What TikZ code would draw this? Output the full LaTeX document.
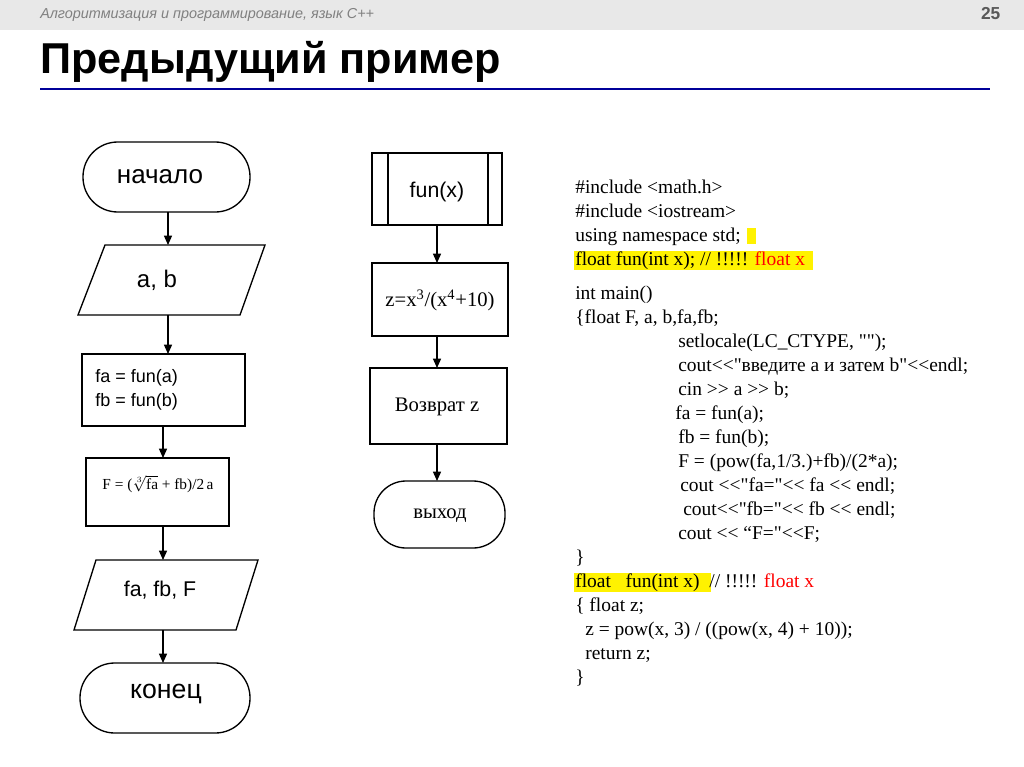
\documentclass[tikz,border=0pt]{standalone}
\usepackage{fontspec}
\setmainfont{Liberation Sans}
\newfontfamily\code{Liberation Serif}[Ligatures=TeXOff]
\usetikzlibrary{arrows.meta}
\begin{document}
\begin{tikzpicture}[x=0.75pt,y=-0.75pt,
 blk/.style={draw,line width=1pt,inner sep=0pt},
 arr/.style={line width=1pt,-{Triangle[length=7pt,width=6pt]}},
 cl/.style={anchor=base west,inner sep=0pt,font=\code\fontsize{14.6}{16}\selectfont},
 fl/.style={font=\fontsize{16}{19}\selectfont},
 ms/.style={font=\code\fontsize{15.5}{18}\selectfont}]
\useasboundingbox (0,0) rectangle (1024,767);
\fill[gray!18] (0,0) rectangle (1024,30);
\node[anchor=west,inner sep=0pt,text=gray,font=\itshape\fontsize{10.8}{13}\selectfont] (hdr) at (40,15) {Алгоритмизация и программирование, язык С++};
\node[anchor=east,text=gray!70!black,font=\bfseries\fontsize{13}{15}\selectfont] (pg) at (1005,14) {25};
\node[anchor=west,inner sep=0pt,font=\bfseries\fontsize{32.4}{36}\selectfont] (title) at (40,62) {Предыдущий пример};
\draw[line width=2.2pt,blue!60!black] (40,89) -- (990,89);
% left flowchart
\draw[blk,rounded corners=26pt] (83,142) rectangle (250,212);
\node[font=\fontsize{19.5}{22}\selectfont] (start) at (160,177) {начало};
\coordinate (s0) at (168,212);
\draw[blk] (105,245) -- (265,245) -- (240,315) -- (78,315) -- cycle;
\node[font=\fontsize{18}{21}\selectfont] (in) at (157,280) {a, b};
\coordinate (in1) at (168,245);
\coordinate (in2) at (168,315);
\draw[blk] (82,354) rectangle (245,426);
\node[anchor=west,align=left,inner sep=0pt,font=\fontsize{13.5}{18}\selectfont] (p1) at (95,390) {fa = fun(a)\\fb = fun(b)};
\coordinate (p1a) at (168,354); \coordinate (p1b) at (163,426);
\draw[blk] (86,458) rectangle (229,526);
\node[font=\code\fontsize{11.5}{13}\selectfont] (p2) at (158,484) {F = ($\sqrt[3]{\hbox{\code fa}}$ + fb)/2\,a};
\coordinate (p2a) at (163,458); \coordinate (p2b) at (163,526);
\draw[blk] (96,560) -- (258,560) -- (236,630) -- (74,630) -- cycle;
\node[fl] (out) at (160,590) {fa, fb, F};
\coordinate (o1) at (163,560); \coordinate (o2) at (163,630);
\draw[blk,rounded corners=26pt] (80,663) rectangle (250,733);
\node[font=\fontsize{20}{23}\selectfont] (end) at (166,694) {конец};
\coordinate (e1) at (163,663);
\draw[arr] (s0) -- (in1);
\draw[arr] (in2) -- (p1a);
\draw[arr] (p1b) -- (p2a);
\draw[arr] (p2b) -- (o1);
\draw[arr] (o2) -- (e1);
% middle flowchart
\draw[blk] (372,153) rectangle (502,225);
\draw[line width=1pt] (388,153) -- (388,225) (488,153) -- (488,225);
\node[fl] (fun) at (437,192) {fun(x)};
\coordinate (f0) at (437,225);
\draw[blk] (372,263) rectangle (508,336);
\node[ms] (z) at (440,300) {z=x\textsuperscript{3}/(x\textsuperscript{4}+10)};
\coordinate (z1) at (437,263); \coordinate (z2) at (437,336);
\draw[blk] (370,368) rectangle (507,444);
\node[ms] (ret) at (437,407) {Возврат z};
\coordinate (r1) at (437,368); \coordinate (r2) at (437,444);
\draw[blk,rounded corners=24pt] (374,481) rectangle (505,548);
\node[ms] (ex) at (440,516) {выход};
\coordinate (x1) at (437,481);
\draw[arr] (f0) -- (z1);
\draw[arr] (z2) -- (r1);
\draw[arr] (r2) -- (x1);
% code
\fill[yellow] (747,228) rectangle (756,244);
\fill[yellow] (574,251) rectangle (813,270);
\fill[yellow] (574,573) rectangle (711,592);
\node[cl] (c1) at (575,193) {\#include <math.h>};
\node[cl] (c2) at (575,217) {\#include <iostream>};
\node[cl] (c3) at (575,241) {using namespace std;};
\node[cl] (c4) at (575,265) {float fun(int x); // !!!!! \textcolor{red}{float x}};
\node[cl] (c5) at (575,299) {int main()};
\node[cl] (c6) at (575,323) {\{float F, a, b,fa,fb;};
\node[cl] (c7) at (678,347) {setlocale(LC\_CTYPE, "");};
\node[cl] (c8) at (678,371) {cout<<"введите a и затем b"<<endl;};
\node[cl] (c9) at (678,395) {cin >> a >> b;};
\node[cl] (c10) at (675,419) {fa = fun(a);};
\node[cl] (c11) at (678,443) {fb = fun(b);};
\node[cl] (c12) at (678,467) {F = (pow(fa,1/3.)+fb)/(2*a);};
\node[cl] (c13) at (680,491) {cout <<"fa="<< fa << endl;};
\node[cl] (c14) at (683,515) {cout<<"fb="<< fb << endl;};
\node[cl] (c15) at (678,539) {cout << “F="<<F;};
\node[cl] (c16) at (575,563) {\}};
\node[cl] (c17) at (575,587) {float\ \ \ fun(int x)\ \ // !!!!! \textcolor{red}{float x}};
\node[cl] (c18) at (575,611) {\{ float z;};
\node[cl] (c19) at (585,635) {z = pow(x, 3) / ((pow(x, 4) + 10));};
\node[cl] (c20) at (585,659) {return z;};
\node[cl] (c21) at (575,683) {\}};
\end{tikzpicture}
\end{document}
